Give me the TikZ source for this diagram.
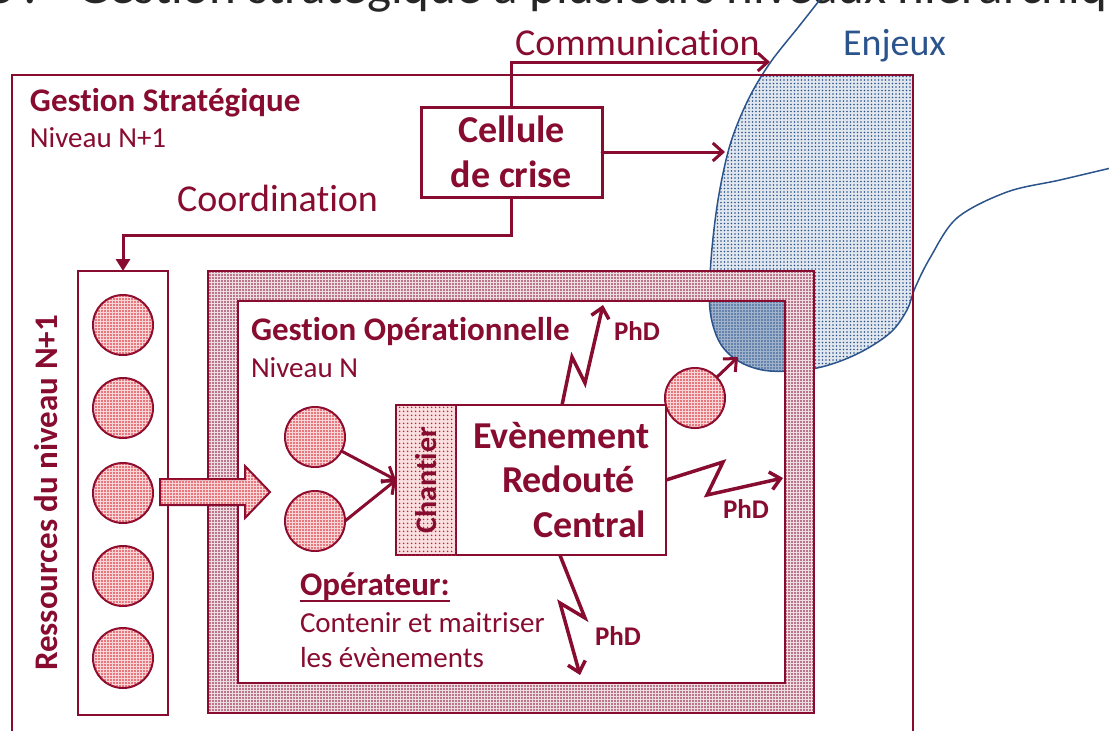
\documentclass[tikz,border=0pt]{standalone}
\usepackage{fontspec}
\setmainfont{Carlito}
\usetikzlibrary{arrows.meta,patterns.meta,calc}
\definecolor{bord}{RGB}{135,12,48}
\definecolor{enj}{RGB}{44,84,140}
\definecolor{dotred}{RGB}{214,24,32}
\newcommand\szTitle{\fontsize{51}{60}\selectfont}
\newcommand\szBig{\fontsize{38}{45}\selectfont}
\newcommand\szHead{\fontsize{33}{40}\selectfont\bfseries}
\newcommand\szSub{\fontsize{29}{35}\selectfont}
\newcommand\szPhD{\fontsize{27}{32}\selectfont\bfseries}
% keeps "t" and "i" as two separate glyphs
\newcommand\nolig{\kern0pt }
\begin{document}
\begin{tikzpicture}[x=1pt,y=-1pt,
  txt/.style={inner sep=0pt,outer sep=0pt,text=bord,anchor=base west},
  box/.style={draw=bord,line width=2pt,inner sep=0pt,outer sep=0pt,anchor=north west},
  redfill/.style={fill=dotred!18,postaction={pattern={Dots[distance=3pt,radius=0.8pt]},pattern color=dotred}},
  framefill/.style={fill=bord!14,postaction={pattern={Dots[distance=3pt,radius=0.8pt]},pattern color=bord}},
  chanfill/.style={fill=dotred!14,postaction={pattern={Dots[distance=4pt,radius=1pt]},pattern color=dotred}},
  bluelite/.style={fill=enj!14,postaction={pattern={Dots[distance=3.5pt,radius=0.8pt]},pattern color=enj}},
  bluedark/.style={fill=enj!45,postaction={pattern={Dots[distance=3pt,radius=0.9pt]},pattern color=enj}},
  ball/.style={circle,draw=bord,line width=2pt,minimum size=60pt,inner sep=0pt,outer sep=0pt,redfill},
  conn/.style={draw=bord,line width=3pt,line cap=round,-{Straight Barb[length=10pt,width=18pt]}},
  zig/.style={draw=bord,line width=3.5pt,line join=miter,-{Straight Barb[length=10pt,width=18pt]}},
  enjline/.style={draw=enj,line width=1.5pt}
]
\useasboundingbox (0,0) rectangle (1109,731);

% heading, cut by the top edge
\node[anchor=base east,inner sep=0pt,text=black!85] (ttlA) at (37,3) {\szTitle e :};
\node[anchor=base west,inner sep=0pt,text=black!85] (ttlB) at (77,3) {\szTitle Gest\nolig ion stratégique à plusieurs niveaux hiérarchiques};

% stakes area (light part), limited to the strategic frame
\begin{scope}
  \clip (12,75) rectangle (913,745);
  \fill[bluelite] plot[smooth,tension=.55] coordinates {(826,-8) (800,25) (770,63) (748,100) (730,145) (718,200) (711,260) (710,310) (720,343) (740,362) (770,371) (817,368) (857,354) (890,333) (907,310) (915,288) (930,258) (957,218) (1007,192) (1060,180) (1115,167)} -- (1120,167) -- (1120,-10) -- cycle;
\end{scope}
\draw[enjline] plot[smooth,tension=.55] coordinates {(826,-8) (800,25) (770,63) (748,100) (730,145) (718,200) (711,260) (710,310) (720,343) (740,362) (770,371) (817,368) (857,354) (890,333) (907,310) (915,288) (930,258) (957,218) (1007,192) (1060,180) (1115,167)};

% strategic level frame
\node[box,minimum width=901pt,minimum height=670pt] (strat) at (12,75) {};
\node[txt,font=\szHead] (stratT) at (30,111) {Gest\nolig ion Stratégique};
\node[txt,font=\szSub] (stratN) at (30,147) {Niveau N+1};

% operational level frame
\node[box,framefill,minimum width=606pt,minimum height=442pt] (gop) at (208,271) {};
\node[box,draw=none,fill=white,minimum width=547pt,minimum height=382pt] (gopin) at (238,301) {};
\begin{scope}
  \clip (gopin.north west) rectangle (gopin.south east);
  \fill[bluedark] plot[smooth,tension=.55] coordinates {(826,-8) (800,25) (770,63) (748,100) (730,145) (718,200) (711,260) (710,310) (720,343) (740,362) (770,371) (817,368) (857,354) (890,333) (907,310) (915,288) (930,258) (957,218) (1007,192) (1060,180) (1115,167)} -- (1120,167) -- (1120,-10) -- cycle;
  \draw[enjline] plot[smooth,tension=.55] coordinates {(826,-8) (800,25) (770,63) (748,100) (730,145) (718,200) (711,260) (710,310) (720,343) (740,362) (770,371) (817,368) (857,354) (890,333) (907,310) (915,288) (930,258) (957,218) (1007,192) (1060,180) (1115,167)};
\end{scope}
\draw[bord,line width=2pt] (gopin.north west) rectangle (gopin.south east);
\node[txt,font=\szHead] (gopT) at (251,340) {Gest\nolig ion Opérat\nolig ionnelle};
\node[txt,font=\szSub] (gopN) at (251,377) {Niveau N};

% crisis cell
\node[box,line width=3pt,fill=white,minimum width=181pt,minimum height=90pt,text=bord,align=center,font=\szBig\bfseries] (cell) at (421,107) {Cellule\\de crise};
\coordinate (comtip) at (770,62);
\coordinate (enjtip) at (725,152);
\draw[conn] (cell.north) |- (comtip);
\draw[conn] (cell.east) -- (enjtip);
\node[txt,font=\szBig] (comT) at (515,55) {Communicat\nolig ion};
\node[txt,font=\szBig,text=enj] (enjT) at (843,55) {Enjeux};
\node[txt,font=\szBig] (coordT) at (177,211) {Coordinat\nolig ion};

% level N+1 resources
\node[box,minimum width=90pt,minimum height=444pt] (res) at (78,271) {};
\draw[draw=bord,line width=3pt,-{Triangle[length=12pt,width=14pt]}] (cell.south) -- ++(0,38) -| (res.north);
\node[ball] (r1) at (123,325) {};
\node[ball] (r2) at (123,408) {};
\node[ball] (r3) at (123,493) {};
\node[ball] (r4) at (123,576) {};
\node[ball] (r5) at (123,658) {};
\node[txt,rotate=90,anchor=center,font=\szHead] (resT) at (46,493) {Ressources du niveau N+1};

% transfer arrow
\filldraw[redfill,draw=bord,line width=2pt,line join=miter] (160,479) -- (245,479) -- (245,466) -- (270,492) -- (245,518) -- (245,505) -- (160,505) -- cycle;

% central dreaded event
\node[box,fill=white,minimum width=270pt,minimum height=150pt] (erc) at (396,405) {};
\node[box,chanfill,minimum width=60pt,minimum height=150pt] (chan) at (396,405) {};
\node[txt,rotate=90,anchor=center,font=\fontsize{30}{36}\selectfont\bfseries] (chanT) at (chan.center) {Chant\nolig ier};
\node[txt,font=\szBig\bfseries] (ev1) at (473,448) {Evènement};
\node[txt,font=\szBig\bfseries] (ev2) at (502,492) {Redouté};
\node[txt,font=\szBig\bfseries] (ev3) at (533,537) {Central};

% local resources
\node[ball] (c1) at (315,437) {};
\node[ball] (c2) at (315,521) {};
\node[ball] (c3) at (695,398) {};
\coordinate (ptc) at (738,357);
\draw[conn] (c1) -- (chan.west);
\draw[conn] (c2.east) -- (chan.west);
\draw[conn] (c3) -- (ptc);

% hazard phenomena
\coordinate (zt1) at (572,357);
\coordinate (zt2) at (585,383);
\coordinate (ztip) at (603,305);
\draw[zig] ($(erc.north west)!0.615!(erc.north east)$) -- (zt1) -- (zt2) -- (ztip);
\coordinate (zr1) at (723,462);
\coordinate (zr2) at (707,495);
\coordinate (zrtip) at (783,478);
\draw[zig] (erc.east) -- (zr1) -- (zr2) -- (zrtip);
\coordinate (zb1) at (585,618);
\coordinate (zb2) at (560,603);
\coordinate (zbtip) at (580,675);
\draw[zig] ($(erc.south west)!0.607!(erc.south east)$) -- (zb1) -- (zb2) -- (zbtip);
\node[txt,font=\szPhD] (phdT) at (614,340) {PhD};
\node[txt,font=\szPhD] (phdR) at (723,518) {PhD};
\node[txt,font=\szPhD] (phdB) at (595,645) {PhD};

% operator
\node[txt,font=\szHead] (opr) at (300,595) {Opérateur:};
\draw[bord,line width=2pt] ([yshift=-6pt]opr.base west) -- ([yshift=-6pt]opr.base east);
\node[txt,font=\szSub] (opr1) at (300,632) {Contenir et maitriser};
\node[txt,font=\szSub] (opr2) at (300,667) {les évènements};
\end{tikzpicture}
\end{document}
